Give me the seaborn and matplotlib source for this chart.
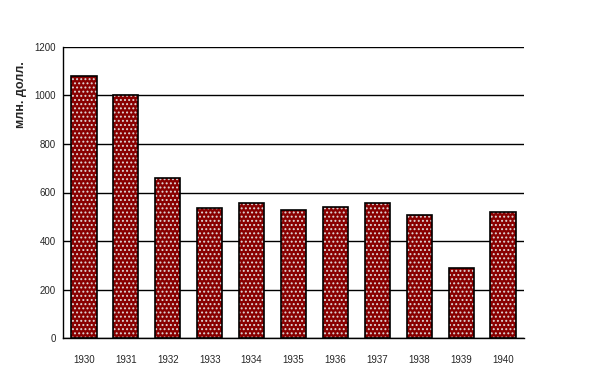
import matplotlib
matplotlib.use('Agg')
import matplotlib.pyplot as plt
from matplotlib.patches import Rectangle
import seaborn as sns
import pandas as pd

# Values
years = ['1930', '1931', '1932', '1933', '1934', '1935', '1936', '1937', '1938', '1939', '1940']
values = [1080, 1000, 658, 535, 558, 527, 540, 558, 507, 288, 518]
y_ticks = [0, 200, 400, 600, 800, 1000, 1200]

sns.set_theme(style='white')
plt.rcParams['font.family'] = ['Liberation Sans', 'DejaVu Sans']
plt.rcParams['hatch.linewidth'] = 0.9

df = pd.DataFrame({'year': years, 'value': values})

fig = plt.figure(figsize=(6.03, 3.74), dpi=100)
ax = fig.add_axes([63 / 603, 1 - 338 / 374, (524 - 63) / 603, (338 - 47) / 374])

sns.barplot(data=df, x='year', y='value', color='#880000', width=0.6,
            saturation=1, edgecolor='#e0d8d8', linewidth=0, hatch='....', ax=ax)

# black outline on each bar
for p in list(ax.patches):
    ax.add_patch(Rectangle(p.get_xy(), p.get_width(), p.get_height(),
                           fill=False, edgecolor='black', linewidth=1.2, zorder=3))

ax.set_ylim(0, 1200)
ax.set_xlim(-0.5, len(years) - 0.5)
ax.set_yticks(y_ticks)
ax.set_yticklabels([str(t) for t in y_ticks], fontsize=7)
ax.yaxis.grid(True, color='black', linewidth=1)
ax.set_axisbelow(True)

ax.set_xlabel('')
ax.set_ylabel('млн. долл.', fontsize=9, fontweight='bold')
ax.yaxis.set_label_coords(-0.078, 0.835)

for s in ['top', 'right']:
    ax.spines[s].set_visible(False)
for s in ['left', 'bottom']:
    ax.spines[s].set_color('black')
    ax.spines[s].set_linewidth(1)

# x: labels centred, tick marks at category borders
ax.tick_params(axis='x', which='major', length=0, pad=12, labelsize=7)
ax.set_xticks([i - 0.5 for i in range(len(years) + 1)], minor=True)
ax.tick_params(axis='x', which='minor', length=4, width=1, color='black', direction='out')
ax.tick_params(axis='y', length=4, width=1, color='black', direction='inout', pad=3)

plt.savefig('out.png', dpi=100)
plt.close()
